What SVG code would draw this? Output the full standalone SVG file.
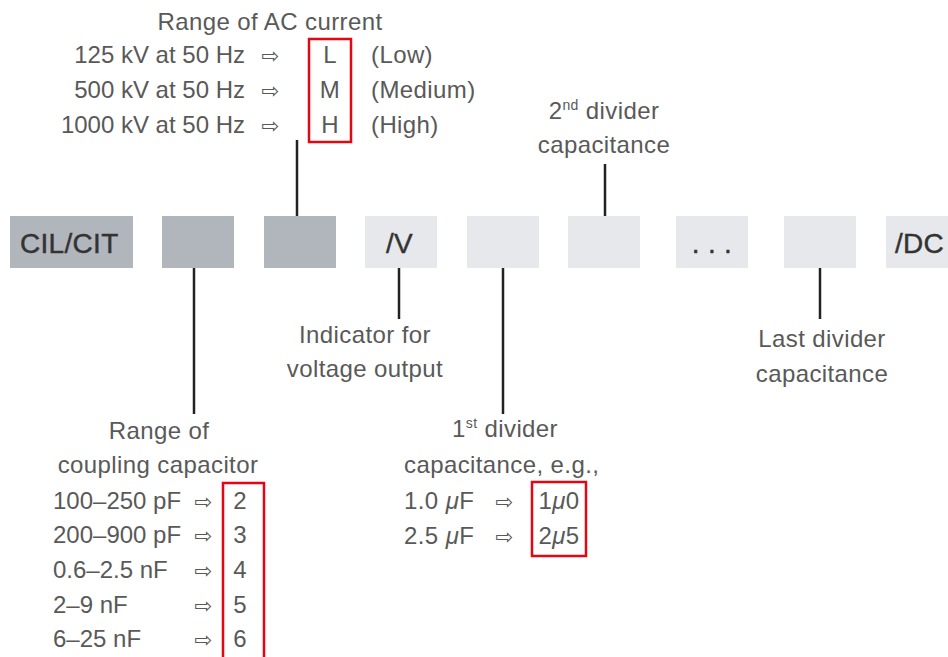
<svg xmlns="http://www.w3.org/2000/svg" width="948" height="657" viewBox="0 0 948 657">
<style>
.t{font-family:"Liberation Sans",Arial,sans-serif;font-size:24px;letter-spacing:0.4px;fill:#595959}
.n{letter-spacing:0}
.b{font-family:"Liberation Sans",Arial,sans-serif;font-size:28px;letter-spacing:0.3px;fill:#333;stroke:#333;stroke-width:0.4}
.ar{font-family:"DejaVu Sans",sans-serif;font-size:21px;fill:#595959;text-anchor:middle}
.m{text-anchor:middle}
.e{text-anchor:end}
.dk{fill:#b1b6bd}
.lt{fill:#e6e8eb}
.red{fill:none;stroke:#e30613;stroke-width:2.5}
.ln{stroke:#222;stroke-width:2.5;fill:none}
.sup{font-size:14px}
</style>
<rect width="948" height="657" fill="#fff"/>
<g id="connectors">
<line class="ln" x1="297" y1="140" x2="297" y2="216"/>
<line class="ln" x1="194" y1="268" x2="194" y2="414"/>
<line class="ln" x1="399" y1="268" x2="399" y2="319"/>
<line class="ln" x1="503" y1="268" x2="503" y2="414"/>
<line class="ln" x1="605" y1="164" x2="605" y2="216"/>
<line class="ln" x1="820" y1="268" x2="820" y2="319"/>
</g>
<g id="box-cil"><rect class="dk" x="10" y="216" width="123" height="52"/><text class="b" x="20" y="253">CIL/CIT</text></g>
<g id="box-coupling"><rect class="dk" x="162" y="216" width="72" height="52"/></g>
<g id="box-ac"><rect class="dk" x="264" y="216" width="72" height="52"/></g>
<g id="box-v"><rect class="lt" x="365" y="216" width="72" height="52"/><text class="b" x="386" y="253">/V</text></g>
<g id="box-div1"><rect class="lt" x="467" y="216" width="72" height="52"/></g>
<g id="box-div2"><rect class="lt" x="568" y="216" width="72" height="52"/></g>
<g id="box-dots"><rect class="lt" x="676" y="216" width="72" height="52"/><text class="b m" x="712" y="253">. . .</text></g>
<g id="box-last"><rect class="lt" x="784" y="216" width="72" height="52"/></g>
<g id="box-dc"><rect class="lt" x="886" y="216" width="72" height="52"/><text class="b" x="895" y="253">/DC</text></g>

<g id="label-ac">
<text class="t m" x="270" y="30">Range of AC current</text>
<text class="t n e" x="245" y="63">125 kV at 50 Hz</text>
<text class="t n e" x="245" y="98">500 kV at 50 Hz</text>
<text class="t n e" x="245" y="133">1000 kV at 50 Hz</text>
<text class="ar" x="270" y="63">⇨</text>
<text class="ar" x="270" y="98">⇨</text>
<text class="ar" x="270" y="133">⇨</text>
<rect class="red" x="309" y="39" width="42" height="103"/>
<text class="t m" x="330" y="63">L</text>
<text class="t m" x="330" y="98">M</text>
<text class="t m" x="330" y="133">H</text>
<text class="t" x="371" y="63">(Low)</text>
<text class="t" x="371" y="98">(Medium)</text>
<text class="t" x="371" y="133">(High)</text>
</g>

<g id="label-div2">
<text class="t m" x="604" y="119">2<tspan class="sup" dy="-9">nd</tspan><tspan dy="9"> divider</tspan></text>
<text class="t m" x="604" y="153">capacitance</text>
</g>

<g id="label-v">
<text class="t m" x="365" y="343">Indicator for</text>
<text class="t m" x="365" y="377">voltage output</text>
</g>

<g id="label-last">
<text class="t m" x="822" y="347">Last divider</text>
<text class="t m" x="822" y="382">capacitance</text>
</g>

<g id="label-coupling">
<text class="t m" x="159" y="439">Range of</text>
<text class="t m" x="158" y="473">coupling capacitor</text>
<text class="t n" x="53" y="509">100–250 pF</text>
<text class="t n" x="53" y="543">200–900 pF</text>
<text class="t n" x="53" y="578">0.6–2.5 nF</text>
<text class="t n" x="53" y="613">2–9 nF</text>
<text class="t n" x="53" y="647">6–25 nF</text>
<text class="ar" x="203" y="509">⇨</text>
<text class="ar" x="203" y="543">⇨</text>
<text class="ar" x="203" y="578">⇨</text>
<text class="ar" x="203" y="613">⇨</text>
<text class="ar" x="203" y="647">⇨</text>
<rect class="red" x="223" y="483" width="41" height="190"/>
<text class="t m" x="240" y="509">2</text>
<text class="t m" x="240" y="543">3</text>
<text class="t m" x="240" y="578">4</text>
<text class="t m" x="240" y="613">5</text>
<text class="t m" x="240" y="647">6</text>
</g>

<g id="label-div1">
<text class="t m" x="505" y="437">1<tspan class="sup" dy="-9">st</tspan><tspan dy="9"> divider</tspan></text>
<text class="t" x="404" y="473">capacitance, e.g.,</text>
<text class="t" x="404" y="509">1.0 <tspan font-style="italic">μ</tspan>F</text>
<text class="t" x="404" y="544">2.5 <tspan font-style="italic">μ</tspan>F</text>
<text class="ar" x="504" y="509">⇨</text>
<text class="ar" x="504" y="544">⇨</text>
<rect class="red" x="532" y="482" width="54" height="74"/>
<text class="t m" x="559" y="509">1<tspan font-style="italic">μ</tspan>0</text>
<text class="t m" x="559" y="544">2<tspan font-style="italic">μ</tspan>5</text>
</g>
</svg>
